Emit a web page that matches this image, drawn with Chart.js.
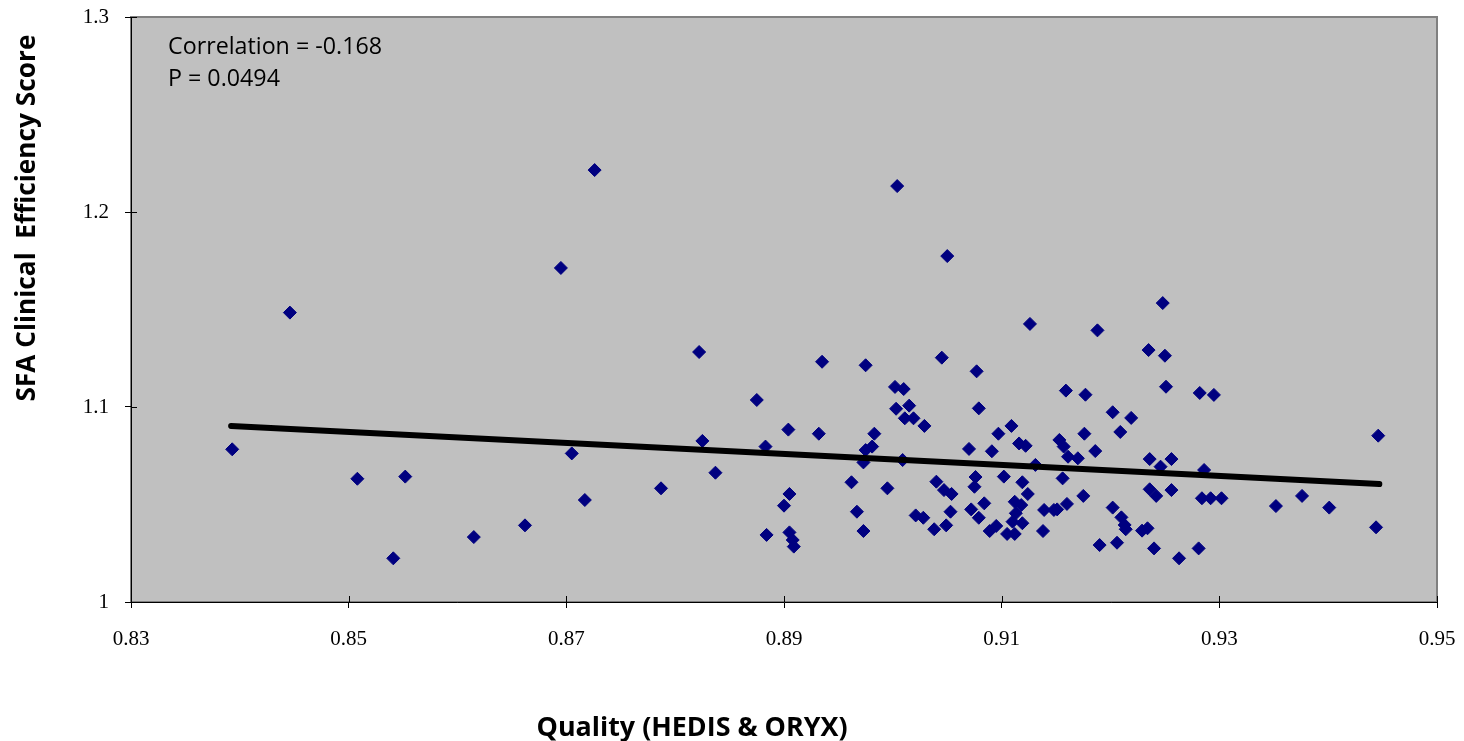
<!DOCTYPE html>
<html>
<head>
<meta charset="utf-8">
<script src="https://cdn.jsdelivr.net/npm/chart.js@4/dist/chart.umd.min.js"></script>
<style>
  html, body { margin: 0; padding: 0; background: #ffffff; }
  #wrap { width: 1464px; height: 741px; position: relative; }
</style>
</head>
<body>
<div id="wrap"><canvas id="c" width="1464" height="741"></canvas></div>
<script>
// ---- Data ----
const qualityX = [
  0.8393, 0.8446, 0.8508, 0.8552, 0.8541, 0.8615, 0.8662, 0.8695, 0.8726, 0.8705,
  0.8717, 0.8787, 0.8822, 0.8825, 0.8837, 0.8875, 0.8883, 0.8884, 0.8904, 0.8905,
  0.8900, 0.8905, 0.8908, 0.8909, 0.8935, 0.8932, 0.8962, 0.8967, 0.8973, 0.8975,
  0.8981, 0.8975, 0.8973, 0.8983, 0.8995, 0.9002, 0.9010, 0.9003, 0.9015, 0.9011,
  0.9019, 0.9029, 0.9009, 0.9004, 0.9021, 0.9028, 0.9038, 0.9049, 0.9040, 0.9047,
  0.9054, 0.9053, 0.9045, 0.9050, 0.9070, 0.9072, 0.9076, 0.9075, 0.9077, 0.9079,
  0.9079, 0.9084, 0.9089, 0.9095, 0.9091, 0.9097, 0.9102, 0.9105, 0.9109, 0.9112,
  0.9118, 0.9113, 0.9110, 0.9119, 0.9112, 0.9116, 0.9122, 0.9119, 0.9124, 0.9126,
  0.9131, 0.9138, 0.9139, 0.9148, 0.9151, 0.9153, 0.9157, 0.9156, 0.9159, 0.9160,
  0.9161, 0.9170, 0.9175, 0.9176, 0.9177, 0.9186, 0.9188, 0.9190, 0.9202, 0.9202,
  0.9206, 0.9209, 0.9210, 0.9213, 0.9214, 0.9219, 0.9229, 0.9234, 0.9235, 0.9236,
  0.9236, 0.9242, 0.9240, 0.9246, 0.9248, 0.9250, 0.9251, 0.9256, 0.9256, 0.9263,
  0.9281, 0.9282, 0.9286, 0.9284, 0.9292, 0.9295, 0.9302, 0.9352, 0.9376, 0.9401,
  0.9444, 0.9446
];
const efficiencyY = [
  1.0783, 1.1484, 1.0632, 1.0643, 1.0224, 1.0333, 1.0393, 1.1713, 1.2215, 1.0762,
  1.0523, 1.0583, 1.1282, 1.0826, 1.0663, 1.1036, 1.0797, 1.0344, 1.0884, 1.0554,
  1.0494, 1.0357, 1.0318, 1.0284, 1.1232, 1.0863, 1.0614, 1.0463, 1.0364, 1.1214,
  1.0797, 1.0779, 1.0716, 1.0863, 1.0583, 1.1103, 1.1092, 1.0991, 1.1007, 1.0942,
  1.0942, 1.0903, 1.0728, 1.2133, 1.0444, 1.0432, 1.0373, 1.0393, 1.0617, 1.0574,
  1.0554, 1.0463, 1.1253, 1.1774, 1.0785, 1.0475, 1.0641, 1.0591, 1.1183, 1.0993,
  1.0432, 1.0506, 1.0364, 1.0390, 1.0773, 1.0863, 1.0643, 1.0349, 1.0903, 1.0514,
  1.0497, 1.0455, 1.0412, 1.0404, 1.0349, 1.0813, 1.0801, 1.0614, 1.0554, 1.1426,
  1.0703, 1.0364, 1.0472, 1.0472, 1.0475, 1.0831, 1.0797, 1.0634, 1.1084, 1.0503,
  1.0745, 1.0737, 1.0544, 1.0863, 1.1063, 1.0774, 1.1393, 1.0292, 1.0973, 1.0484,
  1.0304, 1.0872, 1.0434, 1.0395, 1.0373, 1.0944, 1.0366, 1.0378, 1.1292, 1.0733,
  1.0578, 1.0544, 1.0275, 1.0694, 1.1533, 1.1263, 1.1104, 1.0733, 1.0574, 1.0224,
  1.0275, 1.1072, 1.0677, 1.0532, 1.0532, 1.1062, 1.0532, 1.0492, 1.0544, 1.0484,
  1.0383, 1.0853
];
const trendX = [0.8392, 0.9447];
const trendY = [1.0903, 1.0605];
const xTickValues = [0.83, 0.85, 0.87, 0.89, 0.91, 0.93, 0.95];
const xTickLabels = ['0.83', '0.85', '0.87', '0.89', '0.91', '0.93', '0.95'];
const yTickValues = [1.0, 1.1, 1.2, 1.3];
const yTickLabels = ['1', '1.1', '1.2', '1.3'];
const xTitle = 'Quality (HEDIS & ORYX)';
const yTitle = 'SFA Clinical  Efficiency Score';
const annotationLines = ['Correlation = -0.168', 'P = 0.0494'];

// ---- Build chart ----
const scatterPoints = qualityX.map((x, i) => ({ x: x, y: efficiencyY[i] }));
const trendPoints = trendX.map((x, i) => ({ x: x, y: trendY[i] }));

function fitFont(ctx, text, weight, family, target) {
  ctx.font = weight + ' 100px ' + family;
  const w = ctx.measureText(text).width;
  return 100 * target / w;
}

const decor = {
  id: 'decor',
  beforeDraw(chart) {
    const { ctx, chartArea: a } = chart;
    ctx.save();
    ctx.fillStyle = '#C0C0C0';
    ctx.fillRect(a.left, a.top, a.right - a.left, a.bottom - a.top);
    ctx.strokeStyle = '#808080';
    ctx.lineWidth = 2;
    ctx.strokeRect(a.left, a.top, a.right - a.left, a.bottom - a.top);
    ctx.restore();
  },
  afterDraw(chart) {
    const { ctx, chartArea: a } = chart;
    const xs = chart.scales.x, ys = chart.scales.y;
    ctx.save();
    // inner halves of the crossing tick marks
    ctx.strokeStyle = '#000000';
    ctx.lineWidth = 1;
    ctx.beginPath();
    xTickValues.forEach(v => {
      const px = Math.round(xs.getPixelForValue(v)) + 0.5;
      ctx.moveTo(px, a.bottom);
      ctx.lineTo(px, a.bottom - 6);
    });
    yTickValues.forEach(v => {
      const py = Math.round(ys.getPixelForValue(v)) + 0.5;
      ctx.moveTo(a.left, py);
      ctx.lineTo(a.left + 6, py);
    });
    ctx.stroke();

    ctx.fillStyle = '#000000';
    // Annotation text
    let fs = fitFont(ctx, annotationLines[0], 'normal', '"Open Sans"', 214);
    ctx.font = 'normal ' + fs.toFixed(2) + 'px "Open Sans"';
    ctx.textAlign = 'left';
    ctx.textBaseline = 'alphabetic';
    ctx.fillText(annotationLines[0], 168, 54);
    ctx.fillText(annotationLines[1], 168, 86);
    // X title
    fs = fitFont(ctx, xTitle, 'bold', '"Open Sans"', 311);
    ctx.font = 'bold ' + fs.toFixed(2) + 'px "Open Sans"';
    ctx.textAlign = 'center';
    ctx.fillText(xTitle, 692, 736);
    // Y title
    fs = fitFont(ctx, yTitle, 'bold', '"Open Sans"', 367);
    ctx.font = 'bold ' + fs.toFixed(2) + 'px "Open Sans"';
    ctx.translate(35, 218);
    ctx.rotate(-Math.PI / 2);
    ctx.textAlign = 'center';
    ctx.fillText(yTitle, 0, 0);
    ctx.restore();
  }
};

new Chart(document.getElementById('c'), {
  type: 'scatter',
  data: {
    datasets: [
      {
        type: 'line',
        label: 'Trend',
        data: trendPoints,
        borderColor: '#000000',
        borderWidth: 6,
        borderCapStyle: 'round',
        pointRadius: 0,
        fill: false,
        order: 0
      },
      {
        label: 'Hospitals',
        data: scatterPoints,
        pointStyle: 'rectRot',
        pointRadius: 6.5,
        pointBackgroundColor: '#000080',
        pointBorderColor: '#000080',
        pointBorderWidth: 1,
        order: 1
      }
    ]
  },
  options: {
    responsive: false,
    animation: false,
    devicePixelRatio: 1,
    layout: { padding: { top: 17, right: 27, left: 0, bottom: 0 } },
    plugins: {
      legend: { display: false },
      tooltip: { enabled: false }
    },
    scales: {
      x: {
        type: 'linear',
        min: 0.83,
        max: 0.95,
        afterBuildTicks(scale) { scale.ticks = xTickValues.map(v => ({ value: v })); },
        afterFit(scale) { scale.height = 139; scale.paddingLeft = 0; scale.paddingRight = 0; },
        ticks: {
          callback: (v, i) => xTickLabels[i],
          font: { family: '"Liberation Serif"', size: 21 },
          color: '#000000',
          padding: 19,
          maxRotation: 0
        },
        grid: { drawOnChartArea: false, drawTicks: true, tickLength: 6, color: '#000000', lineWidth: 1 },
        border: { display: true, color: '#000000', width: 1 }
      },
      y: {
        type: 'linear',
        min: 1.0,
        max: 1.3,
        afterBuildTicks(scale) { scale.ticks = yTickValues.map(v => ({ value: v })); },
        afterFit(scale) { scale.width = 131; scale.paddingTop = 0; scale.paddingBottom = 0; },
        ticks: {
          callback: (v, i) => yTickLabels[i],
          font: { family: '"Liberation Serif"', size: 21 },
          color: '#000000',
          padding: 16
        },
        grid: { drawOnChartArea: false, drawTicks: true, tickLength: 6, color: '#000000', lineWidth: 1 },
        border: { display: true, color: '#000000', width: 1 }
      }
    }
  },
  plugins: [decor]
});
</script>
</body>
</html>
